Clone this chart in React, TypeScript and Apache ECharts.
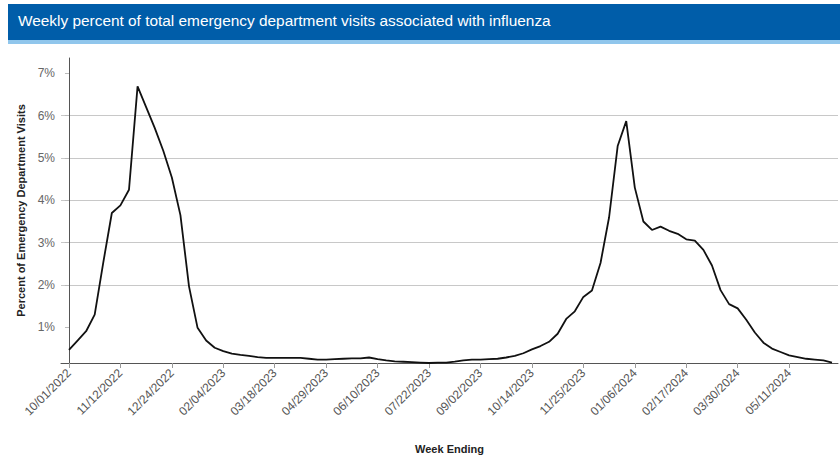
import React, { useEffect, useRef } from "react";
import * as echarts from "echarts";

const titleText = "Weekly percent of total emergency department visits associated with influenza";
const yAxisTitle = "Percent of Emergency Department Visits";
const xAxisTitle = "Week Ending";

// Week-ending tick labels, one every 6 weeks starting at week 0 (10/01/2022)
const tickLabels = [
  "10/01/2022", "11/12/2022", "12/24/2022", "02/04/2023", "03/18/2023",
  "04/29/2023", "06/10/2023", "07/22/2023", "09/02/2023", "10/14/2023",
  "11/25/2023", "01/06/2024", "02/17/2024", "03/30/2024", "05/11/2024",
];
const tickStep = 6;

const yTickValues = [1, 2, 3, 4, 5, 6, 7];

// Weekly percent of ED visits associated with influenza (10/01/2022 .. 06/15/2024)
const percentValues = [
  0.47, 0.69, 0.91, 1.30, 2.53, 3.70, 3.88, 4.25, 6.69, 6.20,
  5.71, 5.17, 4.54, 3.65, 1.97, 0.99, 0.69, 0.52, 0.44, 0.38,
  0.35, 0.33, 0.30, 0.28, 0.28, 0.28, 0.28, 0.28, 0.26, 0.24,
  0.24, 0.25, 0.26, 0.27, 0.27, 0.29, 0.25, 0.22, 0.20, 0.19,
  0.18, 0.17, 0.16, 0.17, 0.17, 0.19, 0.22, 0.24, 0.24, 0.25,
  0.26, 0.29, 0.33, 0.39, 0.48, 0.56, 0.66, 0.85, 1.20, 1.38,
  1.72, 1.87, 2.52, 3.60, 5.28, 5.87, 4.30, 3.50, 3.30, 3.38,
  3.28, 3.21, 3.08, 3.05, 2.83, 2.46, 1.88, 1.55, 1.45, 1.18,
  0.88, 0.64, 0.50, 0.42, 0.34, 0.30, 0.26, 0.24, 0.22, 0.17,
];

const FONT = 'Arial, "Liberation Sans", sans-serif';

export default function App() {
  const ref = useRef<HTMLDivElement>(null);

  useEffect(() => {
    if (!ref.current) return;
    const chart = echarts.init(ref.current, undefined, { renderer: "svg" });
    const tickPositions = tickLabels.map((_, i) => i * tickStep);
    const yMin = Math.min(...percentValues);
    const yMax = Math.max(...percentValues) * 1.1;

    chart.setOption({
      animation: false,
      backgroundColor: "#ffffff",
      textStyle: { fontFamily: FONT },
      graphic: [
        { type: "rect", left: 8, top: 4, shape: { width: 832, height: 36 }, style: { fill: "#005DA9" } },
        { type: "rect", left: 8, top: 40, shape: { width: 832, height: 4 }, style: { fill: "#90C6EC" } },
        {
          type: "text",
          left: 18,
          top: 13,
          style: { text: titleText, fill: "#ffffff", fontSize: 15.4, fontFamily: FONT },
        },
      ],
      grid: { left: 61, right: 2, top: 58, bottom: 94, containLabel: false },
      xAxis: {
        type: "value",
        min: -0.93,
        max: 89.7,
        name: xAxisTitle,
        nameLocation: "middle",
        nameGap: 80,
        nameTextStyle: { fontSize: 11, fontWeight: "bold", color: "#222", fontFamily: FONT },
        axisLine: { show: true, lineStyle: { color: "#555", width: 1 } },
        axisTick: { show: true, length: 5, customValues: tickPositions, lineStyle: { color: "#999" } },
        axisLabel: {
          customValues: tickPositions,
          rotate: 45,
          fontSize: 12,
          color: "#555",
          margin: 8,
          formatter: (v: number) => tickLabels[Math.round(v / tickStep)] ?? "",
        },
        splitLine: { show: false },
      },
      yAxis: {
        type: "value",
        min: yMin,
        max: yMax,
        splitNumber: 7,
        name: yAxisTitle,
        nameLocation: "middle",
        nameGap: 31,
        nameRotate: 90,
        nameTextStyle: { fontSize: 11, fontWeight: "bold", color: "#222", fontFamily: FONT },
        axisLine: { show: true, lineStyle: { color: "#555", width: 1 } },
        axisTick: { show: true, length: 4, customValues: yTickValues, lineStyle: { color: "#bbb" } },
        axisLabel: {
          customValues: yTickValues,
          fontSize: 12,
          color: "#666",
          margin: 6,
          formatter: (v: number) => `${Math.round(v)}%`,
        },
        splitLine: { show: true, showMinLine: false, showMaxLine: false, lineStyle: { color: "#c8c8c8", width: 1 } },
      },
      series: [
        {
          type: "line",
          data: percentValues.map((v, i) => [i, v]),
          showSymbol: false,
          symbol: "none",
          lineStyle: { color: "#111", width: 1.8 },
          silent: true,
        },
      ],
    });

    return () => chart.dispose();
  }, []);

  return (
    <div
      ref={ref}
      style={{ position: "absolute", left: 0, top: 0, width: 840, height: 459 }}
    />
  );
}
